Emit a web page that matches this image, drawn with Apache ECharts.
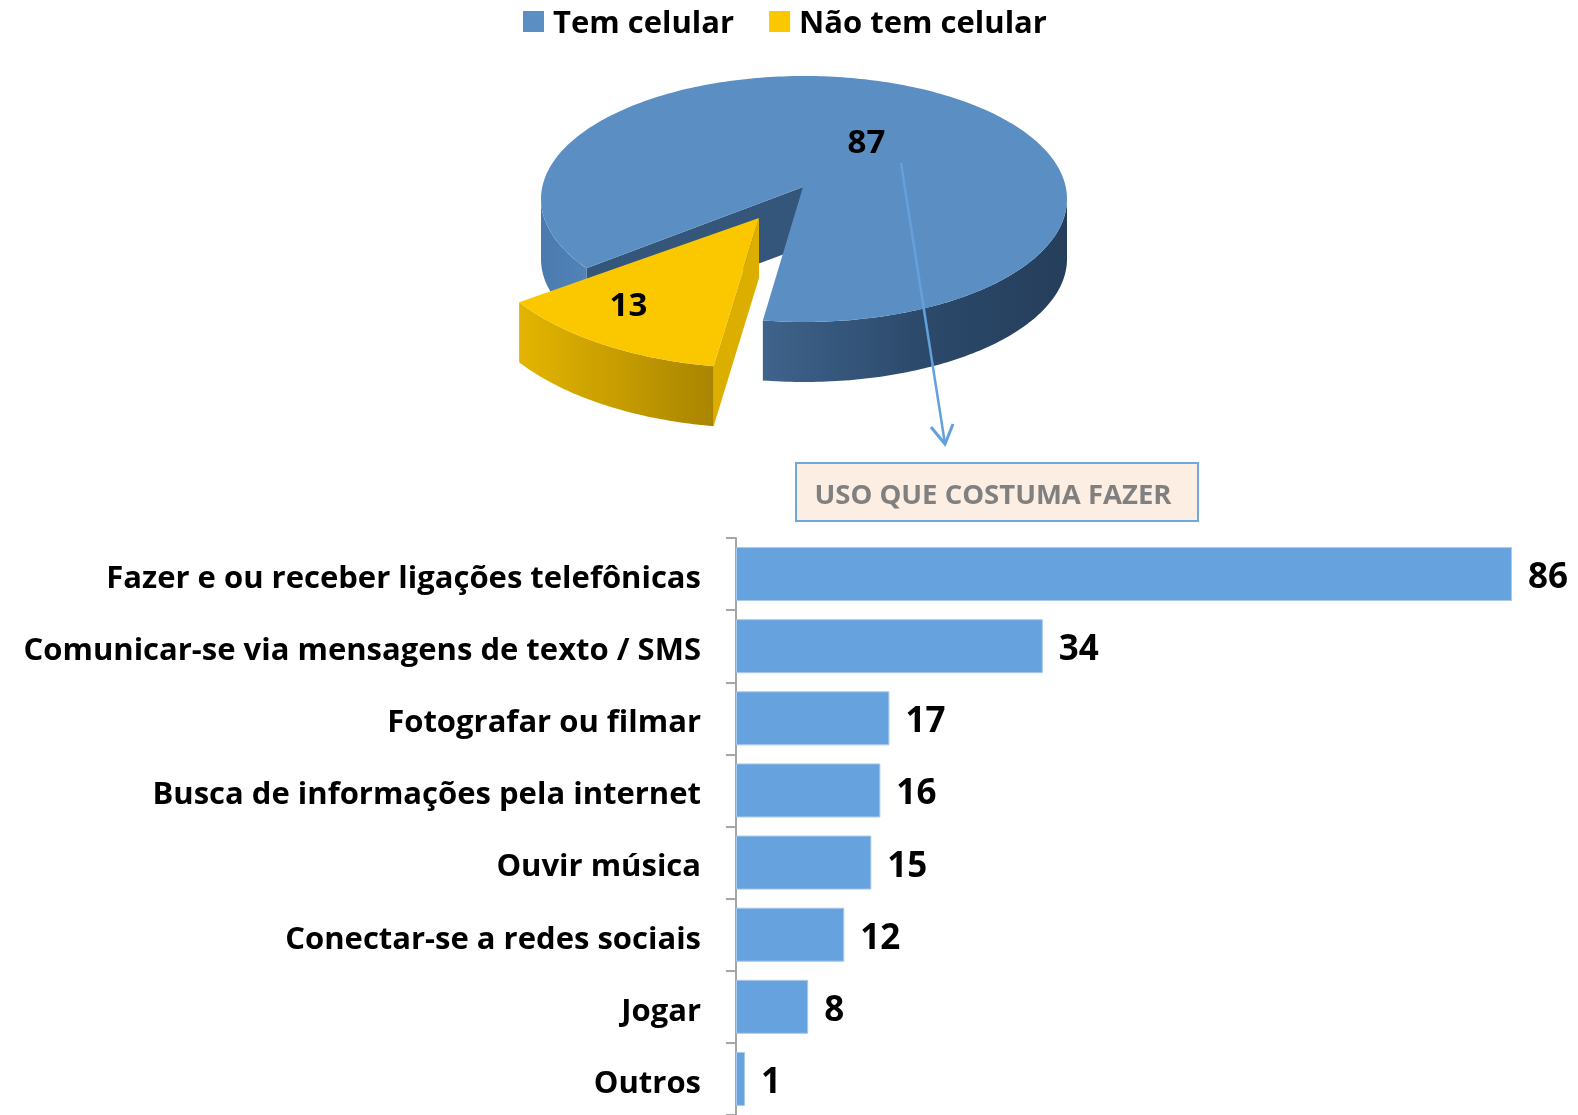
<!DOCTYPE html>
<html>
<head>
<meta charset="utf-8">
<script src="https://cdn.jsdelivr.net/npm/echarts@6/dist/echarts.min.js"></script>
<style>
html, body { margin: 0; padding: 0; background: #fff; }
#main { width: 1578px; height: 1115px; }
</style>
</head>
<body>
<div id="main"></div>
<script>
// pizza: tem / nao tem celular
const pieNames = ['Tem celular', 'Não tem celular']
const pieValues = [87, 13]

// uso que costuma fazer
const categories = [
  'Fazer e ou receber ligações telefônicas',
  'Comunicar-se via mensagens de texto / SMS',
  'Fotografar ou filmar',
  'Busca de informações pela internet',
  'Ouvir música',
  'Conectar-se a redes sociais',
  'Jogar',
  'Outros'
]
const usage = [86, 34, 17, 16, 15, 12, 8, 1]

const FONT = '"Open Sans"'

// forma de cada fatia (a amarela fica destacada e mais perto)
const sliceGeo = [
  { cx: 804, cy: 199, rx: 263, ry: 123, ax: 803, ay: 187, depth: 60, labelR: [0.45, 0.42],
    top: '#5b8fc4', face: '#35567b', wall: ['#3f638b', '#2c4a6c', '#253e5b'], wallLeft: ['#4a7aae', '#5283b8'] },
  { cx: 759, cy: 218, rx: 290, ry: 150, ax: 759, ay: 218, depth: 60, labelR: [0.84, 0.7],
    top: '#fbc800', face: '#dcae00', wall: ['#e3b500', '#c79d00', '#a98500'], wallLeft: ['#e3b500', '#c79d00', '#a98500'] }
]
const startAngle = 261 // graus, anti-horario

const chart = echarts.init(document.getElementById('main'))

function rim(g, a, dy) {
  const r = a * Math.PI / 180
  return [g.cx + g.rx * Math.cos(r), g.cy - g.ry * Math.sin(r) + (dy || 0)]
}
function arcPts(g, a0, a1, dy) {
  const n = Math.max(2, Math.ceil(Math.abs(a1 - a0)))
  const pts = []
  for (let i = 0; i <= n; i++) pts.push(rim(g, a0 + (a1 - a0) * i / n, dy))
  return pts
}
function grad(stops) {
  return new echarts.graphic.LinearGradient(0, 0, 1, 0,
    stops.map((c, i) => ({ offset: i / (stops.length - 1), color: c })))
}

function renderSlice(idx) {
  return function (params, api) {
    const total = pieValues.reduce((a, b) => a + b, 0)
    let before = 0
    for (let i = 0; i < idx; i++) before += pieValues[i]
    const s = startAngle + before / total * 360
    const e = s + api.value(0) / total * 360
    const g = sliceGeo[idx]
    const d = g.depth
    const children = []
    const apex = [g.ax, g.ay]
    const apexD = [g.ax, g.ay + d]
    // faces radiais visiveis
    const rs = s * Math.PI / 180, re = e * Math.PI / 180
    if (Math.cos(rs) > 0) {
      children.push({ type: 'polygon', shape: { points: [apex, rim(g, s), rim(g, s, d), apexD] }, style: { fill: g.face } })
    }
    if (Math.cos(re) < 0) {
      children.push({ type: 'polygon', shape: { points: [apex, rim(g, e), rim(g, e, d), apexD] }, style: { fill: g.face } })
    }
    // parede externa (so a parte da frente)
    for (let k = -1; k <= 2; k++) {
      const a = Math.max(s, 180 + 360 * k), b = Math.min(e, 360 + 360 * k)
      if (b > a) {
        const pts = arcPts(g, a, b, 0).concat(arcPts(g, b, a, d))
        const isLeft = Math.cos(((a + b) / 2) * Math.PI / 180) < -0.6 && idx === 0
        children.push({ type: 'polygon', shape: { points: pts }, style: { fill: grad(isLeft ? g.wallLeft : g.wall) } })
      }
    }
    // tampa
    children.push({ type: 'polygon', shape: { points: [apex].concat(arcPts(g, s, e, 0)) }, style: { fill: g.top } })
    // rotulo
    const mid = (s + e) / 2 * Math.PI / 180
    children.push({
      type: 'text',
      style: {
        text: String(api.value(0)),
        x: g.ax + g.rx * g.labelR[0] * Math.cos(mid),
        y: g.ay - g.ry * g.labelR[1] * Math.sin(mid),
        fill: '#000', fontSize: 33, fontWeight: 'bold', fontFamily: FONT,
        align: 'center', verticalAlign: 'middle'
      }
    })
    return { type: 'group', children: children }
  }
}

const pieSeries = pieNames.map((name, i) => ({
  name: name,
  type: 'custom',
  coordinateSystem: 'none',
  itemStyle: { color: i === 0 ? '#5b8fc4' : '#fbc800' },
  renderItem: renderSlice(i),
  data: [pieValues[i]],
  z: 2 + i
}))

const option = {
  animation: false,
  legend: {
    data: pieNames,
    left: 518,
    top: 4,
    icon: 'rect',
    itemWidth: 21,
    itemHeight: 21,
    itemGap: 35,
    formatter: name => '{t|' + name + '}',
    textStyle: {
      color: '#000',
      rich: { t: { fontSize: 31, fontWeight: 'bold', fontFamily: FONT, color: '#000', padding: [6, 0, 0, 4] } }
    }
  },
  grid: { left: 736, top: 538, width: 776, height: 580 },
  xAxis: { type: 'value', min: 0, max: 86, show: false },
  yAxis: {
    type: 'category',
    data: categories,
    inverse: true,
    axisLine: { lineStyle: { color: '#a6a6a6', width: 2 } },
    axisTick: { show: true, alignWithLabel: false, length: 10, lineStyle: { color: '#a6a6a6', width: 2 } },
    axisLabel: {
      margin: 35,
      formatter: v => '{c|' + v + '}',
      rich: { c: { fontSize: 31, fontWeight: 'bold', fontFamily: FONT, color: '#000', padding: [10, 0, 0, 0] } }
    }
  },
  graphic: [
    { type: 'rect', shape: { x: 796, y: 463, width: 402, height: 58 },
      style: { fill: '#fdeee3', stroke: '#6fa8dc', lineWidth: 2 }, z: 10 },
    { type: 'text', x: 993, y: 496,
      style: { text: 'USO QUE COSTUMA FAZER', fill: '#808080', fontSize: 27.5, fontWeight: 'bold', fontFamily: FONT,
        align: 'center', verticalAlign: 'middle' }, z: 11 },
    { type: 'polyline', shape: { points: [[901, 163], [945, 444]] },
      style: { stroke: '#64a0dc', lineWidth: 2.5 }, z: 20 },
    { type: 'polyline', shape: { points: [[931, 427], [945, 444], [953, 424]] },
      style: { stroke: '#64a0dc', lineWidth: 3, fill: null }, z: 20 }
  ],
  series: pieSeries.concat([
    {
      name: 'Uso',
      type: 'bar',
      data: usage,
      barWidth: 54,
      itemStyle: { color: '#66a2dd', borderColor: '#a9c9ec', borderWidth: 1 },
      label: { show: true, position: 'right', distance: 16, offset: [0, 4], fontSize: 35, fontWeight: 'bold', fontFamily: FONT, color: '#000' }
    }
  ])
}
chart.setOption(option)
</script>
</body>
</html>
